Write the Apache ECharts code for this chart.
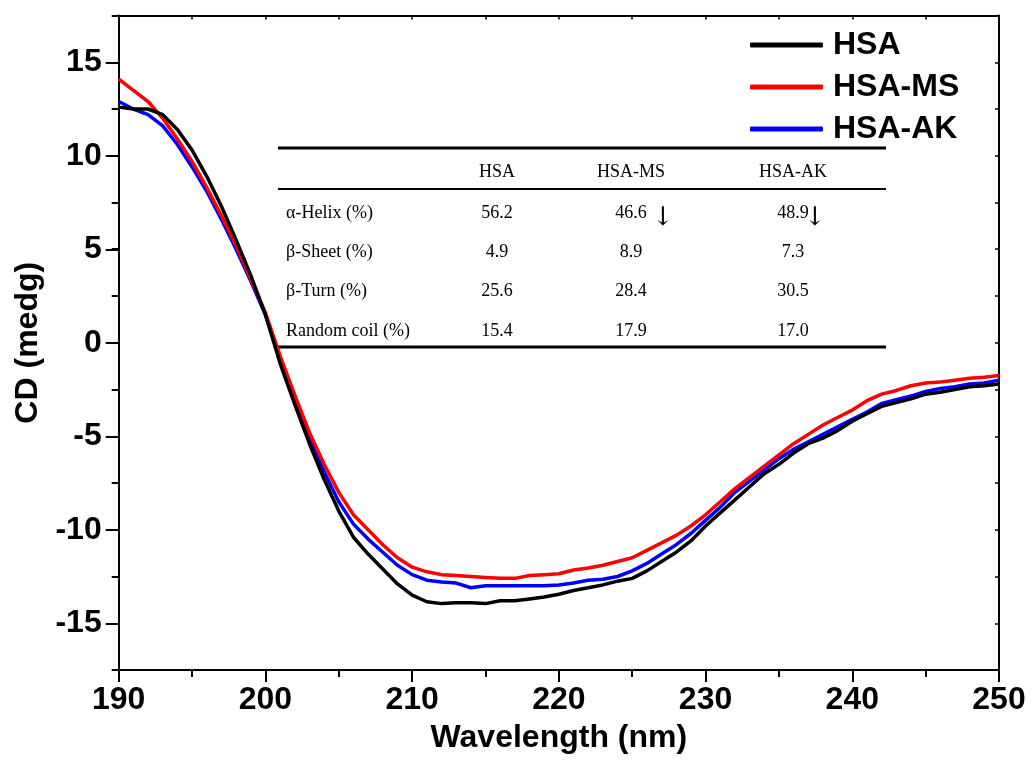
<!DOCTYPE html>
<html>
<head>
<meta charset="utf-8">
<script src="https://cdn.jsdelivr.net/npm/echarts@6/dist/echarts.min.js"></script>
<style>
html,body{margin:0;padding:0;background:#fff;}
#main{width:1032px;height:763px;}
</style>
</head>
<body>
<div id="main"></div>
<script>
// wavelength (nm)
var wavelength = [190,191,192,193,194,195,196,197,198,199,200,201,202,203,204,205,206,207,208,209,
  210,211,212,213,214,215,216,217,218,219,220,221,222,223,224,225,226,227,228,229,
  230,231,232,233,234,235,236,237,238,239,240,241,242,243,244,245,246,247,248,249,250];
var hsa = [12.6,12.5,12.5,12.2,11.4,10.3,8.9,7.3,5.5,3.6,1.5,-1.1,-3.3,-5.4,-7.3,-9.0,-10.4,-11.3,-12.1,-12.9,
  -13.5,-13.85,-13.95,-13.9,-13.9,-13.95,-13.8,-13.8,-13.7,-13.6,-13.45,-13.25,-13.1,-12.95,-12.75,-12.6,-12.2,-11.7,-11.2,-10.6,
  -9.8,-9.1,-8.4,-7.7,-7.0,-6.5,-5.9,-5.4,-5.1,-4.7,-4.2,-3.8,-3.4,-3.2,-3.0,-2.75,-2.65,-2.5,-2.35,-2.3,-2.2];
var hsaMs = [14.1,13.5,12.9,12.0,10.9,9.7,8.3,6.8,5.2,3.4,1.6,-0.7,-2.8,-4.8,-6.5,-8.0,-9.2,-10.0,-10.8,-11.5,
  -12.0,-12.25,-12.4,-12.45,-12.5,-12.55,-12.6,-12.6,-12.45,-12.4,-12.35,-12.15,-12.05,-11.9,-11.7,-11.5,-11.1,-10.7,-10.3,-9.8,
  -9.2,-8.5,-7.8,-7.2,-6.6,-6.0,-5.4,-4.9,-4.4,-4.0,-3.6,-3.1,-2.75,-2.55,-2.3,-2.15,-2.1,-2.0,-1.9,-1.85,-1.75];
var hsaAk = [12.9,12.5,12.2,11.6,10.6,9.4,8.1,6.6,5.0,3.3,1.5,-0.9,-3.0,-5.1,-6.9,-8.5,-9.7,-10.5,-11.2,-11.9,
  -12.4,-12.7,-12.8,-12.85,-13.1,-13.0,-13.0,-13.0,-13.0,-13.0,-12.95,-12.85,-12.7,-12.65,-12.5,-12.2,-11.8,-11.3,-10.8,-10.2,
  -9.5,-8.8,-8.0,-7.4,-6.8,-6.2,-5.7,-5.3,-4.9,-4.5,-4.1,-3.7,-3.25,-3.05,-2.85,-2.6,-2.45,-2.35,-2.2,-2.15,-2.0];

// inset table
var tableHead = ['HSA','HSA-MS','HSA-AK'];
var tableRows = ['α-Helix (%)','β-Sheet (%)','β-Turn (%)','Random coil (%)'];
var tableHsa = ['56.2','4.9','25.6','15.4'];
var tableMs = ['46.6','8.9','28.4','17.9'];
var tableAk = ['48.9','7.3','30.5','17.0'];

function pairs(ys){
  var out = [];
  for (var i = 0; i < wavelength.length; i++) out.push([wavelength[i], ys[i]]);
  return out;
}

var sans = 'Liberation Sans, Arial, sans-serif';
var serif = 'Liberation Serif, Times New Roman, serif';

// table graphic
var colX = [497, 631, 793];
var rowY = [213, 252, 291, 331];
var g = [];
g.push({type:'line', shape:{x1:278,y1:148,x2:886,y2:148}, style:{stroke:'#000',lineWidth:3}});
g.push({type:'line', shape:{x1:278,y1:189,x2:886,y2:189}, style:{stroke:'#000',lineWidth:2}});
g.push({type:'line', shape:{x1:278,y1:347,x2:886,y2:347}, style:{stroke:'#000',lineWidth:3}});
for (var c = 0; c < tableHead.length; c++) {
  g.push({type:'text', x:colX[c], y:172, style:{text:tableHead[c], font:'18px '+serif, fill:'#000', align:'center', verticalAlign:'middle'}});
}
var cols = [tableHsa, tableMs, tableAk];
for (var r = 0; r < tableRows.length; r++) {
  g.push({type:'text', x:286, y:rowY[r], style:{text:tableRows[r], font:'18px '+serif, fill:'#000', align:'left', verticalAlign:'middle'}});
  for (var c2 = 0; c2 < cols.length; c2++) {
    g.push({type:'text', x:colX[c2], y:rowY[r], style:{text:cols[c2][r], font:'18px '+serif, fill:'#000', align:'center', verticalAlign:'middle'}});
  }
}
g.push({type:'text', x:663, y:218, style:{text:'↓', font:'26px DejaVu Serif, serif', fill:'#000', align:'center', verticalAlign:'middle'}});
g.push({type:'text', x:815, y:218, style:{text:'↓', font:'26px DejaVu Serif, serif', fill:'#000', align:'center', verticalAlign:'middle'}});

var myChart = echarts.init(document.getElementById('main'));
var option = {
  animation: false,
  backgroundColor: '#fff',
  grid: [
    {left: 118.7, right: 33, top: 15.5, bottom: 93},
    {left: 118.7, right: 33, top: 62.25, bottom: 139.75}
  ],
  legend: {
    orient: 'vertical',
    left: 750,
    top: 29,
    padding: 0,
    itemWidth: 73,
    itemHeight: 5,
    itemGap: 10,
    icon: 'roundRect',
    textStyle: {fontFamily: sans, fontWeight: 'bold', fontSize: 32, color: '#000', lineHeight: 32, padding: [0,0,0,5]},
    data: ['HSA','HSA-MS','HSA-AK']
  },
  xAxis: [
    {
      type: 'value', gridIndex: 0, position: 'bottom',
      min: 190, max: 250, interval: 10,
      name: 'Wavelength (nm)', nameLocation: 'middle', nameGap: 52,
      nameTextStyle: {fontFamily: sans, fontWeight: 'bold', fontSize: 32, color: '#000'},
      axisLine: {show: true, onZero: false, lineStyle: {color: '#000', width: 2}},
      axisTick: {show: true, inside: false, length: 12, lineStyle: {color: '#000', width: 2}},
      minorTick: {show: true, splitNumber: 2, length: 7, lineStyle: {color: '#000', width: 2}},
      axisLabel: {fontFamily: sans, fontWeight: 'bold', fontSize: 32, color: '#000', margin: 14},
      splitLine: {show: false}
    },
    {
      type: 'value', gridIndex: 0, position: 'top',
      min: 190, max: 250, interval: 5,
      axisLine: {show: true, onZero: false, lineStyle: {color: '#000', width: 2}},
      axisTick: {show: true, inside: true, length: 4, lineStyle: {color: '#000', width: 1.5}},
      axisLabel: {show: false},
      splitLine: {show: false}
    },
    {
      type: 'value', gridIndex: 1, show: false, min: 190, max: 250
    }
  ],
  yAxis: [
    {
      type: 'value', gridIndex: 0, position: 'left',
      min: -17.5, max: 17.5, interval: 2.5,
      axisLine: {show: true, onZero: false, lineStyle: {color: '#000', width: 2}},
      axisTick: {show: true, inside: false, length: 7, lineStyle: {color: '#000', width: 2}},
      axisLabel: {show: false},
      splitLine: {show: false}
    },
    {
      type: 'value', gridIndex: 0, position: 'right',
      min: -17.5, max: 17.5, interval: 2.5,
      axisLine: {show: true, onZero: false, lineStyle: {color: '#000', width: 2}},
      axisTick: {show: true, inside: true, length: 4, lineStyle: {color: '#000', width: 1.5}},
      axisLabel: {show: false},
      splitLine: {show: false}
    },
    {
      type: 'value', gridIndex: 1, position: 'left',
      min: -15, max: 15, interval: 5,
      name: 'CD (medg)', nameLocation: 'middle', nameGap: 72,
      nameTextStyle: {fontFamily: sans, fontWeight: 'bold', fontSize: 32, color: '#000'},
      axisLine: {show: false, onZero: false},
      axisTick: {show: true, inside: false, length: 13, lineStyle: {color: '#000', width: 2}},
      axisLabel: {fontFamily: sans, fontWeight: 'bold', fontSize: 32, color: '#000', margin: 17},
      splitLine: {show: false}
    }
  ],
  series: [
    {name: 'HSA-AK', type: 'line', xAxisIndex: 0, yAxisIndex: 0, showSymbol: false, z: 3,
      itemStyle: {color: '#0000ff'}, lineStyle: {color: '#0000ff', width: 3.5}, data: pairs(hsaAk)},
    {name: 'HSA-MS', type: 'line', xAxisIndex: 0, yAxisIndex: 0, showSymbol: false, z: 4,
      itemStyle: {color: '#ff0000'}, lineStyle: {color: '#ff0000', width: 3.5}, data: pairs(hsaMs)},
    {name: 'HSA', type: 'line', xAxisIndex: 0, yAxisIndex: 0, showSymbol: false, z: 5,
      itemStyle: {color: '#000000'}, lineStyle: {color: '#000000', width: 3.5}, data: pairs(hsa)}
  ],
  graphic: g
};
myChart.setOption(option);
</script>
</body>
</html>
